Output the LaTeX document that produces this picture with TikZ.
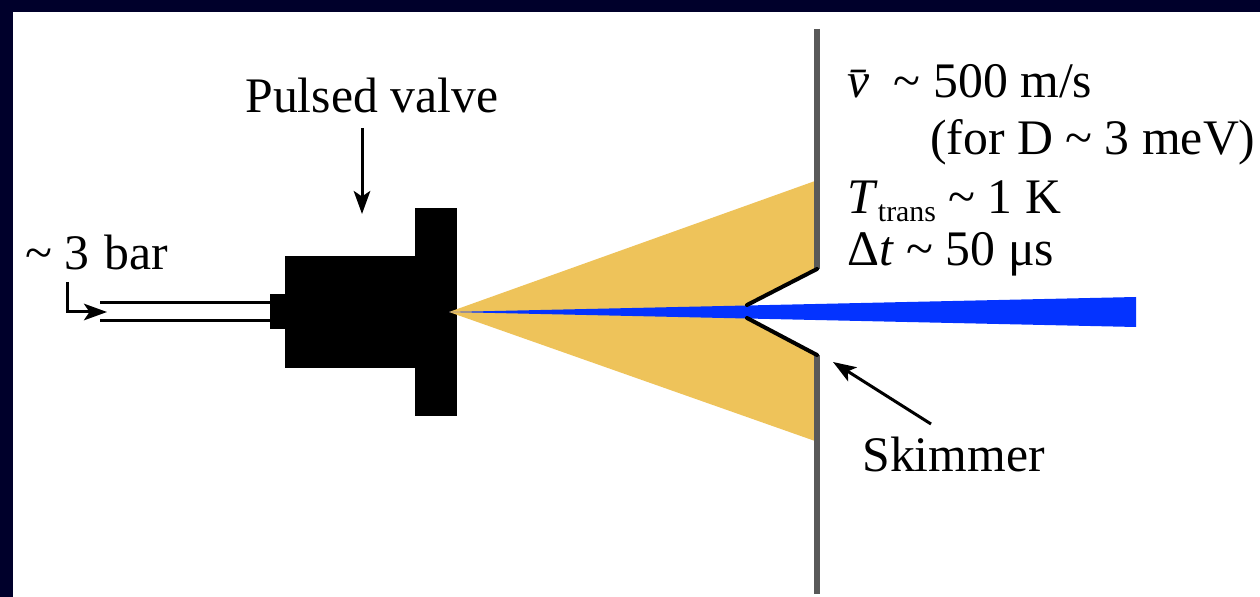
\documentclass[tikz,border=0pt]{standalone}
\usepackage{fontspec}
\setmainfont{Liberation Serif}
\usepackage{xcolor}
\usepackage{tikz}
\usetikzlibrary{positioning,arrows.meta}
\definecolor{framenavy}{HTML}{00002B}
\definecolor{jetyellow}{HTML}{EEC35A}
\definecolor{beamblue}{HTML}{0433FF}
\definecolor{wallgrey}{HTML}{595959}
\tikzset{
  valvepart/.style={draw=none, fill=black, inner sep=0pt},
  label/.style={anchor=base west, inner sep=0pt, font=\fontsize{28.3}{34}\selectfont},
  arrow/.style={-{Stealth[length=4.6mm,width=3.3mm,inset=1.1mm]}, line width=0.6mm},
  tube/.style={line width=0.6mm},
  wall/.style={line width=1.15mm, wallgrey},
  skim/.style={line width=0.8mm, line cap=round}
}
\newcommand{\tld}{\symbol{126}}

\begin{document}
\begin{tikzpicture}[x=0.02cm, y=-0.02cm]
  \useasboundingbox (0,0) rectangle (1260,597);
  \fill[framenavy] (0,0) rectangle (1260,597);
  \fill[white] (13,12) rectangle (1260,597);

  % valve
  \node[valvepart, minimum width=26mm, minimum height=22.4mm] (body) at (350,312) {};
  \node[valvepart, minimum width=8.3mm, minimum height=41.6mm] (flange) at (435.75,312) {};
  \node[valvepart, minimum width=3mm, minimum height=7mm] (nipple) at (277.5,311.5) {};

  % gas inlet
  \coordinate (tubeA) at (100,303);
  \coordinate (tubeB) at (100,321);
  \draw[tube] (tubeA) -- (tubeA -| nipple.west);
  \draw[tube] (tubeB) -- (tubeB -| nipple.west);

  % expansion and beam
  \fill[jetyellow] (449,312) -- (815,181) -- (815,268) -- (747,305) -- (747,318) -- (815,355) -- (815,441) -- cycle;
  \fill[beamblue] (449,312) -- (1136,297) -- (1136,327) -- cycle;

  % wall with skimmer
  \coordinate (wallTop) at (817,29);
  \coordinate (wallUp) at (817,269);
  \coordinate (wallLow) at (817,355);
  \coordinate (wallEnd) at (817,594);
  \draw[wall] (wallTop) -- (wallUp);
  \draw[wall] (wallLow) -- (wallEnd);
  \coordinate (tipUp) at (747,305);
  \coordinate (tipLow) at (747,318);
  \draw[skim] (tipUp) -- (wallUp);
  \draw[skim] (tipLow) -- (wallLow);

  % labels
  \node[label] (pulsed) at (245,113) {Pulsed valve};
  \node[label] (bar) at (25,270) {\tld\ 3\hspace{0.6mm} bar};
  \node[label] (skimmer) at (862,471) {Skimmer};
  \node[label] (speed) at (847,98) {\textit{\=v} \tld\ 500 m/s};
  \node[label] (energy) at (930,155) {(for D \tld\ 3 meV)};
  \node[label] (temp) at (847,214) {\textit{T}\raisebox{-1.5mm}{\fontsize{17}{20}\selectfont trans} \tld\ 1 K};
  \node[label] (width) at (847,266) {Δ\textit{t} \tld\ 50 μs};

  % arrows
  \coordinate (pulsedEnd) at (362,214);
  \coordinate (pulsedStart) at (362,128);
  \coordinate (barStart) at (67,282);
  \coordinate (barEnd) at (107,312);
  \coordinate (skimStart) at (931,424);
  \coordinate (skimEnd) at (833,362);
  \draw[arrow] (pulsedStart) -- (pulsedEnd);
  \draw[arrow] (barStart) |- (barEnd);
  \draw[arrow] (skimStart) -- (skimEnd);
\end{tikzpicture}
\end{document}
